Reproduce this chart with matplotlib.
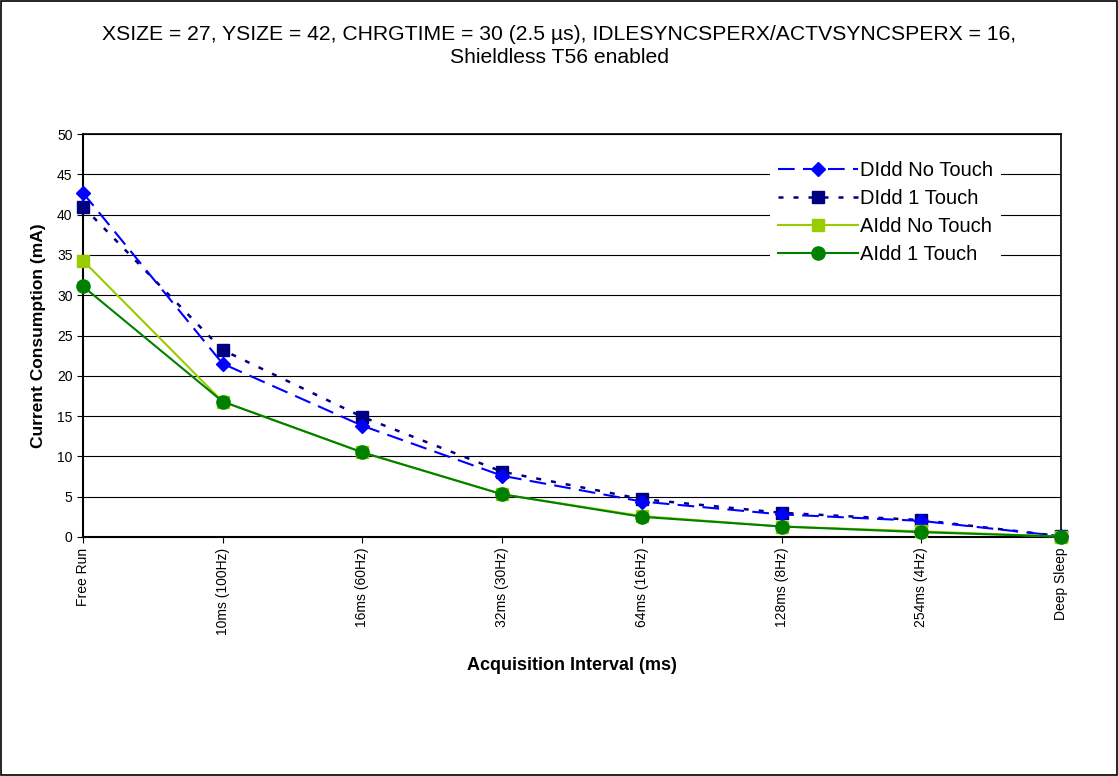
import matplotlib
matplotlib.use("Agg")
import matplotlib.pyplot as plt
from matplotlib.patches import Rectangle

plt.rcParams['font.family'] = ['Liberation Sans', 'DejaVu Sans']

# data
categories = ["Free Run", "10ms (100Hz)", "16ms (60Hz)", "32ms (30Hz)",
              "64ms (16Hz)", "128ms (8Hz)", "254ms (4Hz)", "Deep Sleep"]
didd_no_touch = [42.7, 21.5, 13.8, 7.6, 4.4, 2.8, 2.0, 0.1]
didd_1_touch = [41.0, 23.2, 14.9, 8.1, 4.7, 3.0, 2.1, 0.1]
aidd_no_touch = [34.3, 16.8, 10.5, 5.3, 2.6, 1.3, 0.7, 0.05]
aidd_1_touch = [31.1, 16.8, 10.5, 5.3, 2.5, 1.3, 0.6, 0.05]

fig = plt.figure(figsize=(11.18, 7.76), dpi=100)
ax = fig.add_axes([0.0742, 0.308, 0.8748, 0.5193])

x = list(range(len(categories)))

ax.plot(x, didd_no_touch, color='#0000FF', linestyle=(0, (8, 4)), linewidth=1.5,
        marker='D', markersize=7.5, label='DIdd No Touch', zorder=5, clip_on=False)
ax.plot(x, didd_1_touch, color='#000080', linestyle=(0, (2, 4)), linewidth=1.8,
        marker='s', markersize=9, label='DIdd 1 Touch', zorder=4, clip_on=False)
ax.plot(x, aidd_no_touch, color='#99CC00', linestyle='-', linewidth=1.5,
        marker='s', markersize=9, label='AIdd No Touch', zorder=6, clip_on=False)
ax.plot(x, aidd_1_touch, color='#008000', linestyle='-', linewidth=1.5,
        marker='o', markersize=9.5, label='AIdd 1 Touch', zorder=7, clip_on=False)

ax.set_xlim(0, 7)
ax.set_ylim(0, 50)
ax.set_yticks(range(0, 51, 5))
ax.set_xticks(x)
ax.set_xticklabels(categories, rotation=90, fontsize=10)
ax.tick_params(axis='y', labelsize=10, direction='out', length=4)
ax.tick_params(axis='x', direction='out', length=4)
ax.yaxis.grid(True, color='black', linewidth=0.8)
ax.set_axisbelow(True)
for s in ax.spines.values():
    s.set_linewidth(1.5)
for side in ['top', 'right']:
    ax.spines[side].set_linewidth(1.2)

ax.set_xlabel("Acquisition Interval (ms)", fontsize=13, fontweight='bold', labelpad=16)
ax.set_ylabel("Current Consumption (mA)", fontsize=12.5, fontweight='bold', labelpad=8)

fig.text(0.5, 0.968,
         "XSIZE = 27, YSIZE = 42, CHRGTIME = 30 (2.5 \u00b5s), IDLESYNCSPERX/ACTVSYNCSPERX = 16,\n"
         "Shieldless T56 enabled", fontsize=15.2, ha='center', va='top', linespacing=1.25)

leg = ax.legend(loc='upper left', bbox_to_anchor=(0.702, 0.952), frameon=True, fontsize=14.5,
                handlelength=4, handletextpad=0.1, labelspacing=0.44, borderpad=0.4,
                borderaxespad=0)
leg.get_frame().set_edgecolor('none')
leg.get_frame().set_facecolor('white')
leg.get_frame().set_alpha(1)
leg.get_frame().set_boxstyle('square', pad=0)

fig.patches.append(Rectangle((0.001, 0.001), 0.998, 0.998, transform=fig.transFigure,
                             fill=False, edgecolor='black', linewidth=1.2))

fig.savefig("out.png", dpi=100)
